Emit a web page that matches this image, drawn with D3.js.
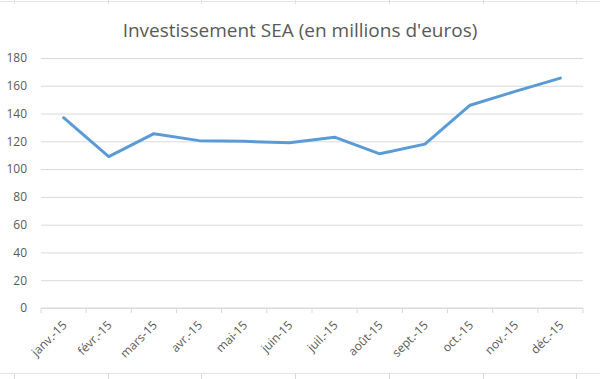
<!DOCTYPE html>
<html>
<head>
<meta charset="utf-8">
<script src="https://cdn.jsdelivr.net/npm/d3@7"></script>
<style>
  body { margin: 0; background: #fff; }
  svg { display: block; font-family: "Open Sans", "Liberation Sans", sans-serif; }
</style>
</head>
<body>
<div id="chart"></div>
<script>
// Data
const months = ["janv.-15", "févr.-15", "mars-15", "avr.-15", "mai-15", "juin-15",
                "juil.-15", "août-15", "sept.-15", "oct.-15", "nov.-15", "déc.-15"];
const values = [137, 109, 125.5, 120.5, 120, 119, 123, 111, 118, 146, 156, 165.5];
const yTicks = [0, 20, 40, 60, 80, 100, 120, 140, 160, 180];

const W = 600, H = 379;
const margin = { top: 58, right: 17, bottom: 71, left: 41 },
      width  = W - margin.left - margin.right,
      height = H - margin.top - margin.bottom;

const svg = d3.select("#chart")
  .append("svg")
  .attr("width", W)
  .attr("height", H);

// spreadsheet cell borders seen around the chart
const cellX = [14, 108, 201, 295, 389, 483, 576];
svg.append("line")
  .attr("x1", 0).attr("x2", W).attr("y1", 1.5).attr("y2", 1.5)
  .attr("stroke", "#e4e4e4");
svg.selectAll(".cell-top")
  .data(cellX)
  .enter().append("line")
  .attr("x1", d => d + 0.5).attr("x2", d => d + 0.5)
  .attr("y1", 0).attr("y2", 4)
  .attr("stroke", "#e0e0e0");
svg.append("line")
  .attr("x1", 0).attr("x2", W).attr("y1", 373.5).attr("y2", 373.5)
  .attr("stroke", "#e4e4e4");
svg.selectAll(".cell-tick")
  .data(cellX)
  .enter().append("line")
  .attr("x1", d => d + 0.5).attr("x2", d => d + 0.5)
  .attr("y1", 373.5).attr("y2", H)
  .attr("stroke", "#d8d8d8");

// Title
svg.append("text")
  .attr("x", 300)
  .attr("y", 37)
  .attr("text-anchor", "middle")
  .attr("fill", "#595959")
  .style("font-size", "19px")
  .text("Investissement SEA (en millions d'euros)");

const g = svg.append("g")
  .attr("transform", `translate(${margin.left},${margin.top})`);

// Scales
const x = d3.scaleBand()
  .domain(months)
  .range([0, width]);

const y = d3.scaleLinear()
  .domain([0, 180])
  .range([height, 0]);

// Gridlines
g.append("g")
  .attr("class", "grid")
  .call(d3.axisLeft(y).tickValues(yTicks).tickSize(-width).tickFormat(""))
  .call(s => s.select(".domain").remove())
  .call(s => s.selectAll("line").attr("stroke", "#d9d9d9"));

// Y axis labels
g.append("g")
  .call(d3.axisLeft(y).tickValues(yTicks).tickSize(0).tickPadding(14))
  .call(s => s.select(".domain").remove())
  .call(s => s.selectAll("text")
    .attr("fill", "#595959")
    .style("font-size", "12px")
    .style("font-family", "'Open Sans', sans-serif"));

// X axis: baseline with ticks on category boundaries
const xAxisG = g.append("g")
  .attr("transform", `translate(0,${height})`);

xAxisG.append("line")
  .attr("x1", 0).attr("x2", width)
  .attr("stroke", "#d9d9d9");

xAxisG.selectAll(".xtick")
  .data(d3.range(months.length + 1))
  .enter().append("line")
  .attr("x1", i => i * x.bandwidth())
  .attr("x2", i => i * x.bandwidth())
  .attr("y1", 0).attr("y2", 5)
  .attr("stroke", "#d9d9d9");

xAxisG.selectAll(".xlabel")
  .data(months)
  .enter().append("text")
  .attr("text-anchor", "end")
  .attr("fill", "#595959")
  .style("font-size", "12px")
  .attr("transform", d => `translate(${x(d) + x.bandwidth() / 2 + 1},${15}) rotate(-45)`)
  .attr("dy", "0.35em")
  .text(d => d);

// Line
const line = d3.line()
  .x((d, i) => x(months[i]) + x.bandwidth() / 2)
  .y(d => y(d));

g.append("path")
  .datum(values)
  .attr("fill", "none")
  .attr("stroke", "#5b9bd5")
  .attr("stroke-width", 3)
  .attr("stroke-linejoin", "round")
  .attr("stroke-linecap", "round")
  .attr("d", line);
</script>
</body>
</html>
